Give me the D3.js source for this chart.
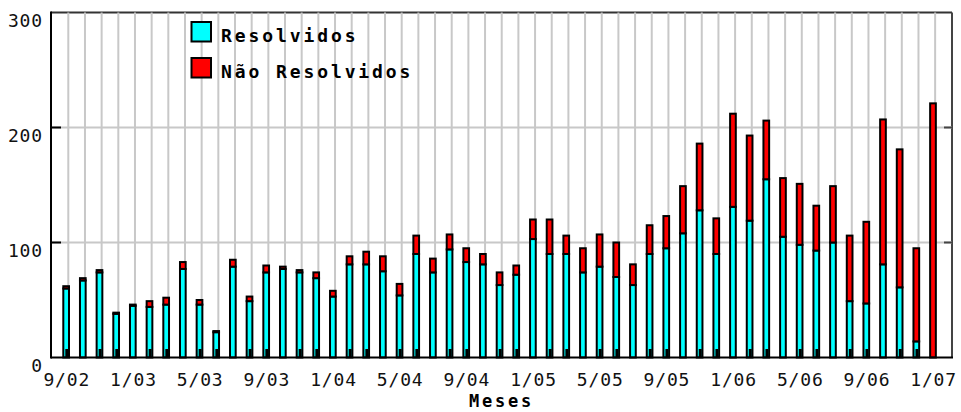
<!DOCTYPE html>
<html>
<head>
<meta charset="utf-8">
<script src="https://cdn.jsdelivr.net/npm/d3@7"></script>
<style>
  html, body { margin: 0; padding: 0; background: #fff; }
  svg { display: block; }
</style>
</head>
<body>
<svg id="chart" width="961" height="412"></svg>
<script>
const months = ["9/02","10/02","11/02","12/02",
  "1/03","2/03","3/03","4/03","5/03","6/03","7/03","8/03","9/03","10/03","11/03","12/03",
  "1/04","2/04","3/04","4/04","5/04","6/04","7/04","8/04","9/04","10/04","11/04","12/04",
  "1/05","2/05","3/05","4/05","5/05","6/05","7/05","8/05","9/05","10/05","11/05","12/05",
  "1/06","2/06","3/06","4/06","5/06","6/06","7/06","8/06","9/06","10/06","11/06","12/06",
  "1/07"];
const resolvidos = [60,67,74,38,45,44,46,77,46,22,79,49,74,77,74,69,53,81,81,75,54,90,74,94,83,81,63,72,103,90,90,74,79,70,63,90,95,108,128,90,131,119,155,105,98,93,100,49,47,81,61,14,0];
const naoResolvidos = [2,2,2,1,1,5,6,6,4,1,6,4,6,2,2,5,5,7,11,13,10,16,12,13,12,9,11,8,17,30,16,21,28,30,18,25,28,41,58,31,81,74,51,51,53,39,49,57,71,126,120,81,221];
const yTicks = [0, 100, 200, 300];
const xTickLabels = ["9/02","1/03","5/03","9/03","1/04","5/04","9/04","1/05","5/05","9/05","1/06","5/06","9/06","1/07"];
const seriesNames = ["Resolvidos", "Não Resolvidos"];
const seriesColors = ["#00ffff", "#ff0000"];

const svg = d3.select("#chart");
const L = 51, R = 952, T = 12.5, B = 357.5;
const x = d3.scaleLinear().domain([0, months.length - 1]).range([66.3, 66.3 + 16.67 * (months.length - 1)]);
const y = d3.scaleLinear().domain([0, 300]).range([B, T]);
const labelFont = "'DejaVu Sans Mono', monospace";

// top & right frame
svg.append("line").attr("x1", L).attr("x2", R).attr("y1", T).attr("y2", T)
  .attr("stroke", "#333").attr("stroke-width", 2);
svg.append("line").attr("x1", R).attr("x2", R).attr("y1", T).attr("y2", B)
  .attr("stroke", "#444").attr("stroke-width", 2);

// grid
svg.append("g").selectAll("line").data(months).join("line")
  .attr("x1", (d, i) => x(i) + 2).attr("x2", (d, i) => x(i) + 2)
  .attr("y1", T).attr("y2", B)
  .attr("stroke", "#c8c8c8").attr("stroke-width", 2);
svg.append("g").selectAll("line").data(yTicks.filter(v => v > 0 && v < 300)).join("line")
  .attr("x1", L).attr("x2", R).attr("y1", d => y(d)).attr("y2", d => y(d))
  .attr("stroke", "#c8c8c8").attr("stroke-width", 2);

// y ticks inward (left and right)
const innerTicks = yTicks.filter(v => v > 0 && v < 300);
svg.append("g").selectAll("line").data(innerTicks).join("line")
  .attr("x1", L).attr("x2", L + 10).attr("y1", d => y(d)).attr("y2", d => y(d))
  .attr("stroke", "#000").attr("stroke-width", 2);
svg.append("g").selectAll("line").data(innerTicks).join("line")
  .attr("x1", R - 8).attr("x2", R).attr("y1", d => y(d)).attr("y2", d => y(d))
  .attr("stroke", "#444").attr("stroke-width", 2);

// stacked bars
const stackData = months.map((m, i) => ({ m, r: resolvidos[i], n: naoResolvidos[i] }));
const stack = d3.stack().keys(["r", "n"])(stackData);
const barW = 5.7;
stack.forEach((layer, k) => {
  svg.append("g").selectAll("rect").data(layer).join("rect")
    .attr("x", (d, i) => x(i) - 3)
    .attr("y", d => y(d[1]))
    .attr("width", barW)
    .attr("height", d => Math.max(0, y(d[0]) - y(d[1])))
    .attr("fill", seriesColors[k])
    .attr("stroke", "#000").attr("stroke-width", 2);
});

// small x ticks at the bottom
svg.append("g").selectAll("rect").data(months.map((m, i) => i).filter(i => i % 3 !== 1)).join("rect")
  .attr("x", i => x(i) - 1).attr("y", B - 8.5).attr("width", 3).attr("height", 8.5)
  .attr("fill", "#000");

// axes lines
svg.append("line").attr("x1", L).attr("x2", L).attr("y1", T - 1).attr("y2", B + 1)
  .attr("stroke", "#000").attr("stroke-width", 2);
svg.append("line").attr("x1", L).attr("x2", R + 1).attr("y1", B).attr("y2", B)
  .attr("stroke", "#000").attr("stroke-width", 2);

// y labels (hanging below tick)
svg.append("g").selectAll("text").data(yTicks).join("text")
  .attr("x", 43).attr("y", d => y(d) + 14.5)
  .attr("text-anchor", "end")
  .attr("font-family", labelFont).attr("font-size", 18)
  .attr("letter-spacing", 0.85)
  .attr("fill", "#111")
  .text(d => d);

// x labels
svg.append("g").selectAll("text").data(xTickLabels).join("text")
  .attr("x", d => x(months.indexOf(d)) + 0.5)
  .attr("y", 385.5)
  .attr("text-anchor", "middle")
  .attr("font-family", labelFont).attr("font-size", 18)
  .attr("letter-spacing", 0.85)
  .attr("fill", "#111")
  .text(d => d);

// x title
svg.append("text").attr("x", 501.5).attr("y", 407)
  .attr("text-anchor", "middle")
  .attr("font-family", labelFont).attr("font-size", 17).attr("font-weight", "bold")
  .attr("letter-spacing", 2.8)
  .attr("fill", "#000")
  .text("Meses");

// legend
const leg = svg.append("g");
seriesNames.forEach((name, k) => {
  const yy = 22 + k * 36;
  leg.append("rect").attr("x", 191.5).attr("y", yy).attr("width", 19.5).attr("height", 19.5)
    .attr("fill", seriesColors[k]).attr("stroke", "#000").attr("stroke-width", 2);
  leg.append("text").attr("x", 221).attr("y", yy + 19.5)
    .attr("font-family", labelFont).attr("font-size", 18).attr("font-weight", "bold")
    .attr("letter-spacing", 2.9)
    .attr("fill", "#000")
    .text(name);
});
</script>
</body>
</html>
